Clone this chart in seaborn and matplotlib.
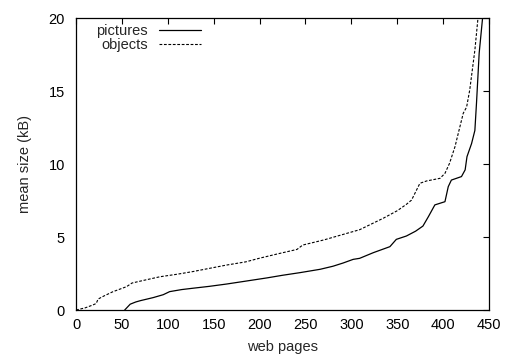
import matplotlib
matplotlib.use("Agg")
import matplotlib.pyplot as plt
import seaborn as sns
import pandas as pd

pictures_x = [53, 56, 59, 65, 70, 84, 95, 102, 115, 127, 145, 164, 185, 208, 225, 244, 266, 280, 291, 302,
              309, 324, 342, 349, 360, 370, 378, 384, 391, 402, 405.6, 409, 420, 424, 426, 431, 434.6, 436.4, 439.3, 443]
pictures_y = [0, 0.2, 0.4, 0.55, 0.64, 0.85, 1.05, 1.26, 1.4, 1.49, 1.62, 1.78, 1.98, 2.2, 2.38, 2.56, 2.79, 3.0, 3.22, 3.47,
              3.54, 3.93, 4.34, 4.84, 5.07, 5.4, 5.75, 6.4, 7.2, 7.42, 8.45, 8.9, 9.14, 9.6, 10.5, 11.4, 12.3, 14.2, 17.6, 20]

objects_x = [0, 10, 18.5, 22, 24, 30, 40, 55, 61, 75, 91.5, 110, 127, 145, 164, 185, 200, 220, 240.7, 247,
             270, 295, 309, 334.6, 350, 360, 365.6, 374.7, 382, 396.6, 402, 407, 413, 414.7, 421.9, 425.6, 429, 434.6, 438]
objects_y = [0, 0.15, 0.35, 0.45, 0.75, 0.95, 1.25, 1.6, 1.85, 2.05, 2.28, 2.45, 2.63, 2.85, 3.08, 3.3, 3.55, 3.85, 4.15, 4.45,
             4.8, 5.25, 5.5, 6.28, 6.8, 7.24, 7.53, 8.68, 8.84, 9.02, 9.36, 10.05, 11.2, 11.64, 13.47, 13.9, 15.07, 17.8, 20]

x_ticks = [0, 50, 100, 150, 200, 250, 300, 350, 400, 450]
y_ticks = [0, 5, 10, 15, 20]

sns.set_style("white")
plt.rcParams['font.family'] = ['Liberation Sans', 'DejaVu Sans']
FS = 10.5

df_p = pd.DataFrame({"x": pictures_x, "y": pictures_y})
df_o = pd.DataFrame({"x": objects_x, "y": objects_y})

fig = plt.figure(figsize=(5.07, 3.58), dpi=100)
ax = fig.add_axes([0.150, 0.134, 0.8145, 0.8157])

sns.lineplot(data=df_p, x="x", y="y", ax=ax, color="black", linewidth=0.9, label="pictures",
             estimator=None, sort=False)
sns.lineplot(data=df_o, x="x", y="y", ax=ax, color="black", linewidth=0.8, linestyle=(0, (2.5, 1.5)),
             label="objects", estimator=None, sort=False)

ax.set_xlim(0, 450)
ax.set_ylim(0, 20)
ax.set_xticks(x_ticks)
ax.set_yticks(y_ticks)
ax.tick_params(direction="in", top=True, right=True, length=4, width=0.8, colors="black",
               labelsize=FS)
ax.tick_params(axis="y", pad=8)
ax.tick_params(axis="x", pad=5.5)
for s in ax.spines.values():
    s.set_color("black")
    s.set_linewidth(0.9)

ax.set_xlabel("web pages", fontsize=FS, labelpad=6)
ax.set_ylabel("mean size (kB)", fontsize=FS, labelpad=12)

leg = ax.legend(loc="upper left", frameon=False, markerfirst=False, handlelength=2.9,
                borderaxespad=0.0, borderpad=0.2, handletextpad=0.75, labelspacing=0.0, fontsize=FS,
                bbox_to_anchor=(0.042, 0.99))
for t in leg.get_texts():
    t.set_ha("right")
leg._legend_box.align = "right"

fig.savefig("out.png", dpi=100)
